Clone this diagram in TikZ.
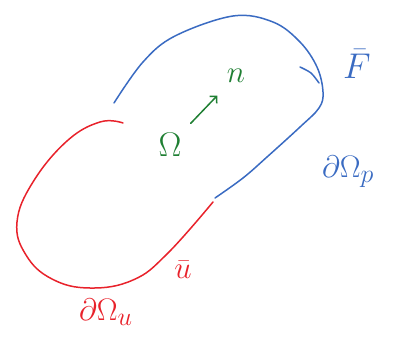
\documentclass[tikz,border=0pt]{standalone}
\usepackage{amsmath,amssymb}
\usetikzlibrary{arrows.meta,positioning}
\definecolor{pen}{HTML}{3A6BC2}
\definecolor{chalk}{HTML}{E8222B}
\definecolor{leaf}{HTML}{1F7F33}
\tikzset{stroke/.style={line width=1.5pt,line cap=round,line join=round},
lab/.style={font=\Huge,inner sep=0pt,scale=1.25}}

\begin{document}
\begin{tikzpicture}[x=1pt,y=-1pt]
\useasboundingbox (0,0) rectangle (393,340);
\draw[pen,stroke] plot[smooth,tension=.6] coordinates {(114,103) (143,62) (175,36) (233,16) (273,22) (300,42) (317,67) (323,92) (319,108) (300,127) (267,157) (243,178) (215,198)};
\draw[pen,stroke] plot[smooth] coordinates {(300,67) (311,73) (319,83)};
\draw[chalk,stroke] plot[smooth,tension=.7] coordinates {(123,123) (100,122) (67,141) (33,182) (17,222) (26,255) (52,279) (90,288) (133,280) (167,254) (213,202)};
\node[lab,text=pen,scale=1.15] (F) at (357,64) {$\bar F$};
\node[lab,text=pen] (dOp) at (348,172) {$\partial\Omega_p$};
\node[lab,text=chalk] (u) at (183,270) {$\bar u$};
\node[lab,text=chalk] (dOu) at (106,312) {$\partial\Omega_u$};
\node[lab,text=leaf,scale=1.1] (Om) at (170,145) {$\Omega$};
\node[lab,text=leaf] (n) at (236,76) {$n$};
\draw[leaf,stroke,-{Straight Barb[length=5pt]},shorten <=30pt,shorten >=27pt] (Om.center) -- (n.center);
\end{tikzpicture}
\end{document}
